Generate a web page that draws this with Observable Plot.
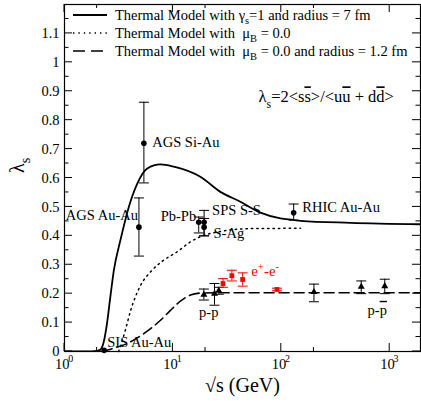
<!DOCTYPE html>
<html><head><meta charset="utf-8">
<script src="https://cdn.jsdelivr.net/npm/d3@7"></script>
<script src="https://cdn.jsdelivr.net/npm/@observablehq/plot@0.6"></script>
<style>
html,body{margin:0;padding:0;background:#fff;}
svg text{white-space:pre;}
</style></head><body><div id="chart"></div>
<script>
// ---- curves ----
const solidX = [1, 1.6, 2.0, 2.15, 2.29, 2.44, 2.66, 2.85, 3.28, 3.92, 4.68, 5.8, 7.68, 10.2, 17.9, 27.4, 41.9, 64.2, 98.2, 130, 150, 434, 1923];
const solidY = [0, 0, 0.002, 0.007, 0.03, 0.085, 0.195, 0.28, 0.385, 0.50, 0.58, 0.633, 0.647, 0.639, 0.604, 0.552, 0.518, 0.48, 0.46, 0.455, 0.452, 0.445, 0.44];
const dottedX = [3.15, 3.36, 3.65, 4.06, 4.52, 5.02, 6.21, 8.24, 10.96, 14.5, 17.9, 27.4, 52, 150];
const dottedY = [0, 0.03, 0.075, 0.14, 0.19, 0.228, 0.275, 0.316, 0.345, 0.379, 0.397, 0.415, 0.425, 0.426];
const dashedX = [2.24, 2.66, 3.79, 5.39, 7.68, 9.49, 11.8, 14.5, 17.9, 24.8, 1923];
const dashedY = [0, 0.008, 0.028, 0.062, 0.108, 0.142, 0.175, 0.195, 0.202, 0.203, 0.203];

// ---- nucleus-nucleus (circles) ----
const aaName = ["SIS Au-Au", "AGS Au-Au", "AGS Si-Au", "Pb-Pb", "SPS S-S", "S-Ag", "RHIC Au-Au"];
const aaSqrtS = [2.32, 4.86, 5.4, 17.3, 19.4, 19.4, 130];
const aaLambda = [0.004, 0.43, 0.72, 0.447, 0.447, 0.43, 0.48];
const aaLow = [0.004, 0.33, 0.583, 0.41, 0.40, 0.40, 0.454];
const aaHigh = [0.004, 0.531, 0.862, 0.465, 0.488, 0.46, 0.51];

// ---- p-p and p-pbar (triangles) ----
const ppSqrtS = [19.3, 24.2, 26.5, 200, 546, 900];
const ppLambda = [0.196, 0.20, 0.21, 0.206, 0.224, 0.226];
const ppLow = [0.178, 0.16, 0.198, 0.172, 0.20, 0.20];
const ppHigh = [0.216, 0.235, 0.222, 0.233, 0.244, 0.25];

// ---- e+e- (red squares) ----
const eeSqrtS = [29, 35, 44, 91.2];
const eeLambda = [0.235, 0.262, 0.249, 0.2145];
const eeLow = [0.222, 0.244, 0.226, 0.210];
const eeHigh = [0.252, 0.281, 0.272, 0.219];

// ---- ticks ----
const xMajorTicks = [1, 10, 100, 1000];
const xTickExp = ["0", "1", "2", "3"];
const xMinorTicks = [2, 20, 200];
const yMajorTicks = [0, 0.1, 0.2, 0.3, 0.4, 0.5, 0.6, 0.7, 0.8, 0.9, 1.0, 1.1];
const yTickLabels = ["0", "0.1", "0.2", "0.3", "0.4", "0.5", "0.6", "0.7", "0.8", "0.9", "1", "1.1"];
const yMinorTicks = [0.05, 0.15, 0.25, 0.35, 0.45, 0.55, 0.65, 0.75, 0.85, 0.95, 1.05, 1.15];

// ---- annotations ----
const labelText = ["AGS Si-Au", "AGS Au-Au", "Pb-Pb", "SPS S-S", "S-Ag", "RHIC Au-Au", "SIS Au-Au", "p-p", "p-~{p}"];
const labelX = [6.44, 4.76, 16.4, 23.0, 23.7, 156, 2.48, 21.4, 767];
const labelY = [0.724, 0.470, 0.466, 0.487, 0.41, 0.498, 0.03, 0.137, 0.143];
const labelAnchor = ["start", "end", "end", "start", "start", "start", "start", "middle", "middle"];

const zip = (xs, ys) => xs.map((x, i) => ({x, y: ys[i]}));
const pts = (xs, ys, lo, hi) => xs.map((x, i) => ({x, y: ys[i], lo: lo[i], hi: hi[i]}));
const aa = pts(aaSqrtS, aaLambda, aaLow, aaHigh);
const pp = pts(ppSqrtS, ppLambda, ppLow, ppHigh);
const ee = pts(eeSqrtS, eeLambda, eeLow, eeHigh);
const aaErr = aa.filter(d => d.hi > d.lo);
const labels = labelText.map((t, i) => ({t, x: labelX[i], y: labelY[i], a: labelAnchor[i]}));

const FONT = '"Liberation Serif", "Times New Roman", Times, serif';
const FS = 14.5;
const capSymbol = {draw(ctx, size) { const r = Math.sqrt(size / Math.PI); ctx.moveTo(-r, 0); ctx.lineTo(r, 0); }};

function errMarks(data, color) {
  return [
    Plot.ruleX(data, {x: "x", y1: "lo", y2: "hi", stroke: color, strokeWidth: 1}),
    Plot.dot(data, {x: "x", y: "lo", symbol: capSymbol, r: 5, stroke: color, fill: "none", strokeWidth: 1}),
    Plot.dot(data, {x: "x", y: "hi", symbol: capSymbol, r: 5, stroke: color, fill: "none", strokeWidth: 1})
  ];
}
const labelMarks = ["start", "middle", "end"].map(a =>
  Plot.text(labels.filter(d => d.a === a), {x: "x", y: "y", text: "t", textAnchor: a, fontSize: FS, fill: "black"}));

const plot = Plot.plot({
  width: 421, height: 407,
  marginLeft: 64, marginRight: 1, marginTop: 4, marginBottom: 56,
  x: {type: "log", domain: [1, 1923], axis: null},
  y: {domain: [0, 1.2], axis: null},
  style: {fontFamily: FONT, fontSize: FS + "px", background: "white", color: "black"},
  marks: [
    Plot.line(zip(solidX, solidY), {x: "x", y: "y", stroke: "black", strokeWidth: 1.8, curve: "monotone-x", clip: true}),
    Plot.line(zip(dottedX, dottedY), {x: "x", y: "y", stroke: "black", strokeWidth: 1.5, strokeDasharray: "1.4,4", curve: "monotone-x"}),
    Plot.line(zip(dashedX, dashedY), {x: "x", y: "y", stroke: "black", strokeWidth: 1.6, strokeDasharray: "10,5", curve: "monotone-x", clip: true}),
    ...errMarks(aaErr, "black"),
    ...errMarks(pp, "black"),
    ...errMarks(ee, "red"),
    Plot.dot(aa, {x: "x", y: "y", r: 2.8, fill: "black", symbol: "circle"}),
    Plot.dot(pp, {x: "x", y: "y", r: 2.6, fill: "black", symbol: "triangle"}),
    Plot.dot(ee, {x: "x", y: "y", r: 2.7, fill: "red", symbol: "square"}),
    ...labelMarks,
    Plot.text(["e^{+}-e^{-}"], {x: 52.7, y: 0.278, text: d => d, textAnchor: "start", fontSize: 15, fill: "red"}),
    Plot.text(["λ_{s}=2<s~{s}>/<u~{u} + d~{d}>"], {x: 61.6, y: 0.88, text: d => d, textAnchor: "start", fontSize: 16.5}),
    Plot.text(yMajorTicks, {y: d => d, frameAnchor: "left", dx: -5, text: (d, i) => yTickLabels[i], textAnchor: "end", fontSize: FS}),
    Plot.text(xMajorTicks, {x: d => d, frameAnchor: "bottom", dy: 17.5, dx: -2.3, text: () => "10", fontSize: FS}),
    Plot.text(xMajorTicks, {x: d => d, frameAnchor: "bottom", dy: 10.5, dx: 6.3, text: (d, i) => xTickExp[i], fontSize: 10}),
    Plot.text(["√s (GeV)"], {frameAnchor: "bottom", dy: 40, text: d => d, fontSize: 20}),
    Plot.text(["λ_{s}"], {frameAnchor: "left", dx: -47, dy: -5, rotate: -90, text: d => d, fontSize: 20}),
    Plot.frame({stroke: "black", strokeWidth: 1.2})
  ]
});
document.getElementById("chart").appendChild(plot);

const svg = d3.select(plot);
const sx = plot.scale("x"), sy = plot.scale("y");
const [L, R] = sx.range, [B, T] = sy.range;

// inward ticks on all four sides, placed through the plot's scales
const tg = svg.append("g").attr("stroke", "black").attr("stroke-width", 1);
const tick = (x1, y1, x2, y2) => tg.append("line").attr("x1", x1).attr("y1", y1).attr("x2", x2).attr("y2", y2);
for (const [vals, len] of [[yMajorTicks, 8], [yMinorTicks, 4.5]]) {
  for (const v of vals) { const y = sy.apply(v); tick(L, y, L + len, y); tick(R, y, R - len, y); }
}
for (const [vals, len] of [[xMajorTicks, 8], [xMinorTicks, 4]]) {
  for (const v of vals) { const x = sx.apply(v); tick(x, B, x, B - len); tick(x, T, x, T + len); }
}

// legend
const legendRows = [
  {y: 15, dash: null, text: "Thermal Model with γ_{s}=1 and radius = 7 fm"},
  {y: 33, dash: "1.4,4", text: "Thermal Model with  μ_{B} = 0.0"},
  {y: 51, dash: "12,6", text: "Thermal Model with  μ_{B} = 0.0 and radius = 1.2 fm"}
];
const lg = svg.append("g").attr("font-family", FONT).attr("font-size", FS).attr("text-anchor", "start");
for (const r of legendRows) {
  lg.append("line").attr("x1", 73).attr("x2", 107).attr("y1", r.y).attr("y2", r.y)
    .attr("stroke", "black").attr("stroke-width", r.dash ? 1.6 : 1.8).attr("stroke-dasharray", r.dash);
  lg.append("text").attr("x", 115).attr("y", r.y).attr("dy", "0.32em").attr("text-anchor", "start").text(r.text);
}

// rich text: _{sub} ^{sup} ~{overline}
function richify(el) {
  const s = el.textContent;
  if (!/[_^~]\{/.test(s)) return;
  const fs = parseFloat(getComputedStyle(el).fontSize) || FS;
  el.textContent = "";
  const re = /([_^~])\{([^}]*)\}/g;
  let last = 0, m, shift = 0;
  const parts = [];
  while ((m = re.exec(s))) {
    if (m.index > last) parts.push(["", s.slice(last, m.index)]);
    parts.push([m[1], m[2]]);
    last = re.lastIndex;
  }
  if (last < s.length) parts.push(["", s.slice(last)]);
  for (const [k, t] of parts) {
    const ts = document.createElementNS("http://www.w3.org/2000/svg", "tspan");
    let target = 0, size = null;
    if (k === "_") { target = 0.32 * fs; size = 0.72 * fs; }
    else if (k === "^") { target = -0.42 * fs; size = 0.72 * fs; }
    else if (k === "~") { ts.setAttribute("text-decoration", "overline"); }
    const d = target - shift;
    if (d) ts.setAttribute("dy", d);
    shift = target;
    if (size) ts.setAttribute("font-size", size);
    ts.textContent = t;
    el.appendChild(ts);
  }
}
svg.selectAll("text").each(function() { richify(this); });
</script></body></html>
